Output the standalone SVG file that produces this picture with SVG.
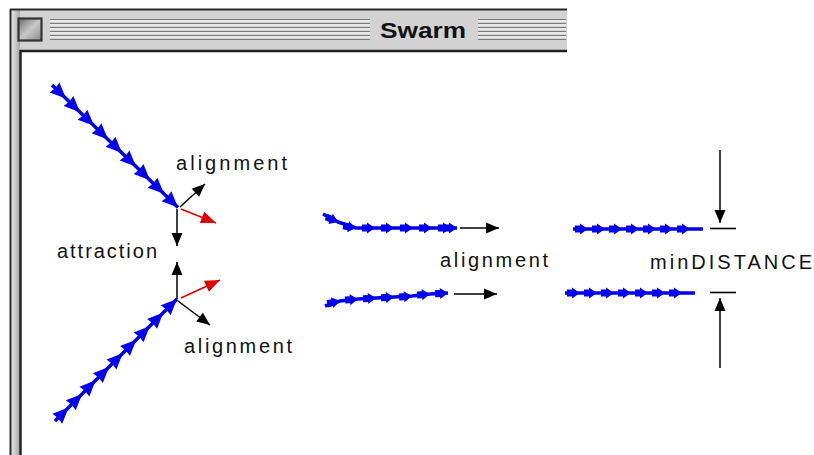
<svg xmlns="http://www.w3.org/2000/svg" width="814" height="455" viewBox="0 0 814 455">
  <style>
    .lbl { font-family: "Liberation Sans", Arial, sans-serif; font-size: 20px; fill: #111; }
    .title { font-family: "Liberation Sans", Arial, sans-serif; font-weight: bold; font-size: 22px; fill: #111; }
    .chain { fill: none; stroke: #0000f0; stroke-width: 3.5; stroke-linejoin: round; }
    .blk { fill: none; stroke: #000; stroke-width: 1.5; marker-end: url(#head); }
    .red { fill: none; stroke: #e00000; stroke-width: 1.5; marker-end: url(#headRed); }
    .bar { stroke: #000; stroke-width: 1.6; }
    .stripe { stroke: #7a7a7a; stroke-width: 1.2; }
  </style>
  <defs>
    <linearGradient id="boxFill" x1="0" y1="0" x2="1" y2="1">
      <stop offset="0" stop-color="#6a6a6a"/>
      <stop offset="0.5" stop-color="#c8c8c8"/>
      <stop offset="1" stop-color="#8a8a8a"/>
    </linearGradient>
    <linearGradient id="sideFill" x1="0" y1="0" x2="1" y2="0">
      <stop offset="0" stop-color="#e8e8e8"/>
      <stop offset="1" stop-color="#a8a8a8"/>
    </linearGradient>
    <!-- boid heads along diagonal chains -->
    <marker id="boid" viewBox="0 0 16 16" markerUnits="userSpaceOnUse" markerWidth="16" markerHeight="16" refX="16" refY="8" orient="auto" overflow="visible">
      <path d="M0,1 L16,8 L0,15 L1,8 z" fill="#0000f0"/>
    </marker>
    <!-- block-shaped boids along horizontal chains -->
    <marker id="boidS" viewBox="0 0 13 12" markerUnits="userSpaceOnUse" markerWidth="13" markerHeight="12" refX="13" refY="6" orient="auto" overflow="visible">
      <path d="M0,2.5 H5 V0.5 L13,6 L5,11.5 V9.5 H0 z" fill="#0000f0"/>
    </marker>
    <marker id="head" viewBox="0 0 13 11" markerUnits="userSpaceOnUse" markerWidth="13" markerHeight="11" refX="13" refY="5.5" orient="auto" overflow="visible">
      <path d="M0,0 L13,5.5 L0,11 z" fill="#000"/>
    </marker>
    <marker id="headRed" viewBox="0 0 15 12" markerUnits="userSpaceOnUse" markerWidth="15" markerHeight="12" refX="15" refY="6" orient="auto" overflow="visible">
      <path d="M0,0 L15,6 L0,12 z" fill="#e00000"/>
    </marker>
  </defs>

  <rect width="814" height="455" fill="#fff"/>

  <!-- window frame -->
  <g id="window">
    <rect x="10" y="9" width="557" height="42" fill="#d2d2d2"/>
    <rect x="11" y="9" width="9" height="446" fill="url(#sideFill)"/>
    <line x1="10" y1="9.5" x2="567" y2="9.5" stroke="#2a2a2a" stroke-width="2"/>
    <line x1="10.5" y1="9" x2="10.5" y2="455" stroke="#2a2a2a" stroke-width="2"/>
    <line x1="20" y1="51" x2="567" y2="51" stroke="#222" stroke-width="2.5"/>
    <line x1="20.5" y1="50" x2="20.5" y2="455" stroke="#222" stroke-width="2.5"/>
    <rect x="18.5" y="18.5" width="23" height="22" fill="url(#boxFill)" stroke="#333" stroke-width="2.2"/>
    <g id="stripes">
      <path class="stripe" d="M50,19.5H370M50,23.5H370M50,27.5H370M50,31.5H370M50,35.5H370M50,39.5H370"/>
      <path class="stripe" d="M478,19.5H566M478,23.5H566M478,27.5H566M478,31.5H566M478,35.5H566M478,39.5H566"/>
      <path stroke="#fff" stroke-width="1" d="M50,21H370M50,25H370M50,29H370M50,33H370M50,37H370M478,21H566M478,25H566M478,29H566M478,33H566M478,37H566"/>
    </g>
    <text class="title" x="380" y="38" textLength="86" lengthAdjust="spacingAndGlyphs">Swarm</text>
  </g>

  <!-- left group: two boid trails converging -->
  <g id="upper-left-boid">
    <polyline class="chain" style="marker-mid:url(#boid);marker-end:url(#boid)" points="52,85 66,98.6 80,112.2 94,125.8 108,139.4 122,153 136,166.6 150,180.2 164,193.8 178,207.4"/>
  </g>
  <g id="lower-left-boid">
    <polyline class="chain" style="marker-mid:url(#boid);marker-end:url(#boid)" points="55,421 68.6,407.4 82.1,393.9 95.7,380.3 109.2,366.8 122.8,353.2 136.3,339.7 149.9,326.1 163.4,312.6 177,299"/>
  </g>

  <!-- middle group: aligned pair -->
  <g id="middle-upper-boid">
    <polyline class="chain" style="marker-mid:url(#boidS);marker-end:url(#boidS)" points="323,214 338,222 356,228 375,228 394,228 413,228 432,228 451,228 457,228"/>
  </g>
  <g id="middle-lower-boid">
    <polyline class="chain" style="marker-mid:url(#boidS);marker-end:url(#boidS)" points="325,306 340,301 358,299 376,298 394,297 412,296 430,294 448,293"/>
  </g>

  <!-- right group: minimum separation -->
  <g id="right-upper-boid">
    <polyline class="chain" style="marker-mid:url(#boidS)" points="573,229 588,229 605,229 622,229 639,229 656,229 673,229 690,229 703,229"/>
  </g>
  <g id="right-lower-boid">
    <polyline class="chain" style="marker-mid:url(#boidS)" points="565,293 580,293 597,293 614,293 631,293 648,293 665,293 682,293 695,293"/>
  </g>

  <!-- force and distance arrows -->
  <g id="connectors">
    <line class="blk" x1="180" y1="207" x2="205" y2="184"/>
    <line class="red" x1="181" y1="209" x2="216" y2="223"/>
    <line class="blk" x1="177" y1="209" x2="177" y2="246"/>
    <line class="blk" x1="177" y1="299" x2="177" y2="262"/>
    <line class="red" x1="181" y1="298" x2="220" y2="280"/>
    <line class="blk" x1="178" y1="301" x2="210" y2="325"/>
    <line class="blk" x1="460" y1="228" x2="499" y2="228"/>
    <line class="blk" x1="454" y1="294" x2="497" y2="294"/>
    <line class="blk" x1="720" y1="150" x2="720" y2="223"/>
    <line class="blk" x1="720" y1="368" x2="720" y2="298"/>
    <line class="bar" x1="710" y1="228.5" x2="736" y2="228.5"/>
    <line class="bar" x1="710" y1="292.5" x2="736" y2="292.5"/>
  </g>

  <g id="labels">
    <text class="lbl" x="176" y="169.5" textLength="111" lengthAdjust="spacing">alignment</text>
    <text class="lbl" x="57" y="258" textLength="100" lengthAdjust="spacing">attraction</text>
    <text class="lbl" x="184" y="352.5" textLength="108" lengthAdjust="spacing">alignment</text>
    <text class="lbl" x="440" y="267" textLength="108" lengthAdjust="spacing">alignment</text>
    <text class="lbl" x="650" y="269" textLength="162" lengthAdjust="spacing">minDISTANCE</text>
  </g>
</svg>
